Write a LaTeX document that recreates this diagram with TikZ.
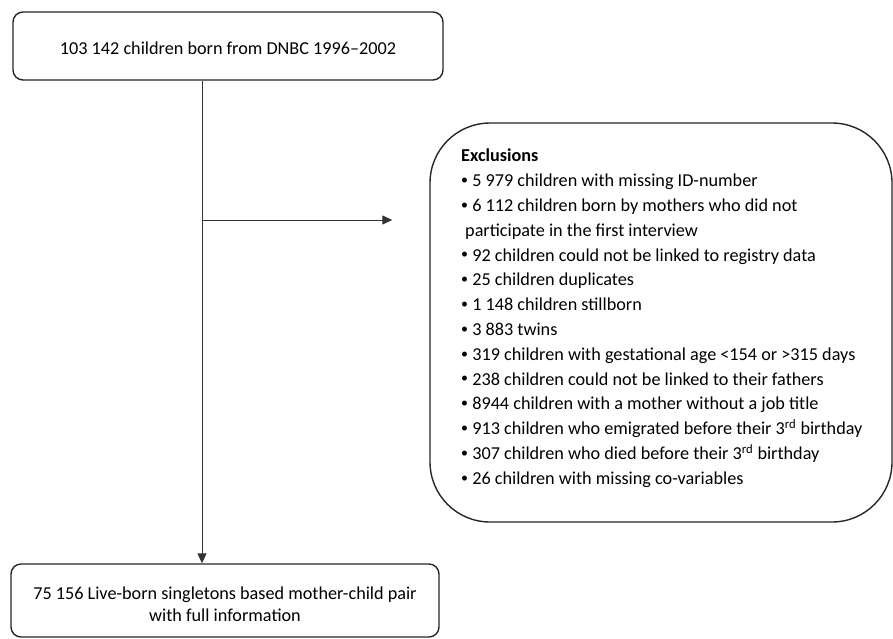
\documentclass[tikz,border=0pt]{standalone}
\usepackage{fontspec}
\setmainfont{Carlito}
\usetikzlibrary{positioning}
\usetikzlibrary{arrows.meta}

\newcommand{\exbullet}{\raisebox{2.2pt}{\fontsize{14}{14}\selectfont•}}

\tikzset{
  flowbox/.style={draw=black!85,line width=1.4pt,rounded corners=10pt,align=center,inner sep=0pt},
  flowline/.style={draw=black!80,line width=1pt},
  flowarrow/.style={flowline,-{Triangle[length=10pt,width=9pt]}}
}

\begin{document}
\begin{tikzpicture}[x=1pt,y=-1pt,font=\fontsize{18.2}{24.8}\selectfont]
\useasboundingbox (0,0) rectangle (893,638);
%start and end boxes
\node (start) at (228,46) [flowbox,minimum width=430pt,minimum height=68pt] {};
\node (starttext) at ([yshift=-2pt]start.center) {103 142 children born from DNBC 1996–2002};
\node (final) at (225,600.5) [flowbox,minimum width=428pt,minimum height=73pt] {};
\node (finaltext) at ([yshift=-4pt]final.center) [align=center,font=\fontsize{18.2}{22}\selectfont] {75 156 Live-born singletons based mother-child pair\\with full information};

%exclusion box and its list
\node (excl) at (661,322.5) [flowbox,rounded corners=60pt,minimum width=462pt,minimum height=399pt] {};
\node (excllist) at (461,149) [anchor=north west,align=left,inner sep=0pt] {%
  \textbf{Exclusions}\\
  \exbullet{} 5 979 children with missing ID-number\\
  \exbullet{} 6 112 children born by mothers who did not\\
  \hspace*{4pt}participate in the first interview\\
  \exbullet{} 92 children could not be linked to registry data\\
  \exbullet{} 25 children duplicates\\
  \exbullet{} 1 148 children stillborn\\
  \exbullet{} 3 883 twins\\
  \exbullet{} 319 children with gestational age <154 or >315 days\\
  \exbullet{} 238 children could not be linked to their fathers\\
  \exbullet{} 8944 children with a mother without a job title\\
  \exbullet{} 913 children who emigrated before their 3\textsuperscript{rd} birthday\\
  \exbullet{} 307 children who died before their 3\textsuperscript{rd} birthday\\
  \exbullet{} 26 children with missing co-variables};

%connectors
\coordinate (split) at (202,220);
\draw [flowarrow] (start.south -| split) -- (final.north -| split);
\draw [flowarrow,shorten >=37pt] (split) -- (split -| excl.west);
\end{tikzpicture}
\end{document}
